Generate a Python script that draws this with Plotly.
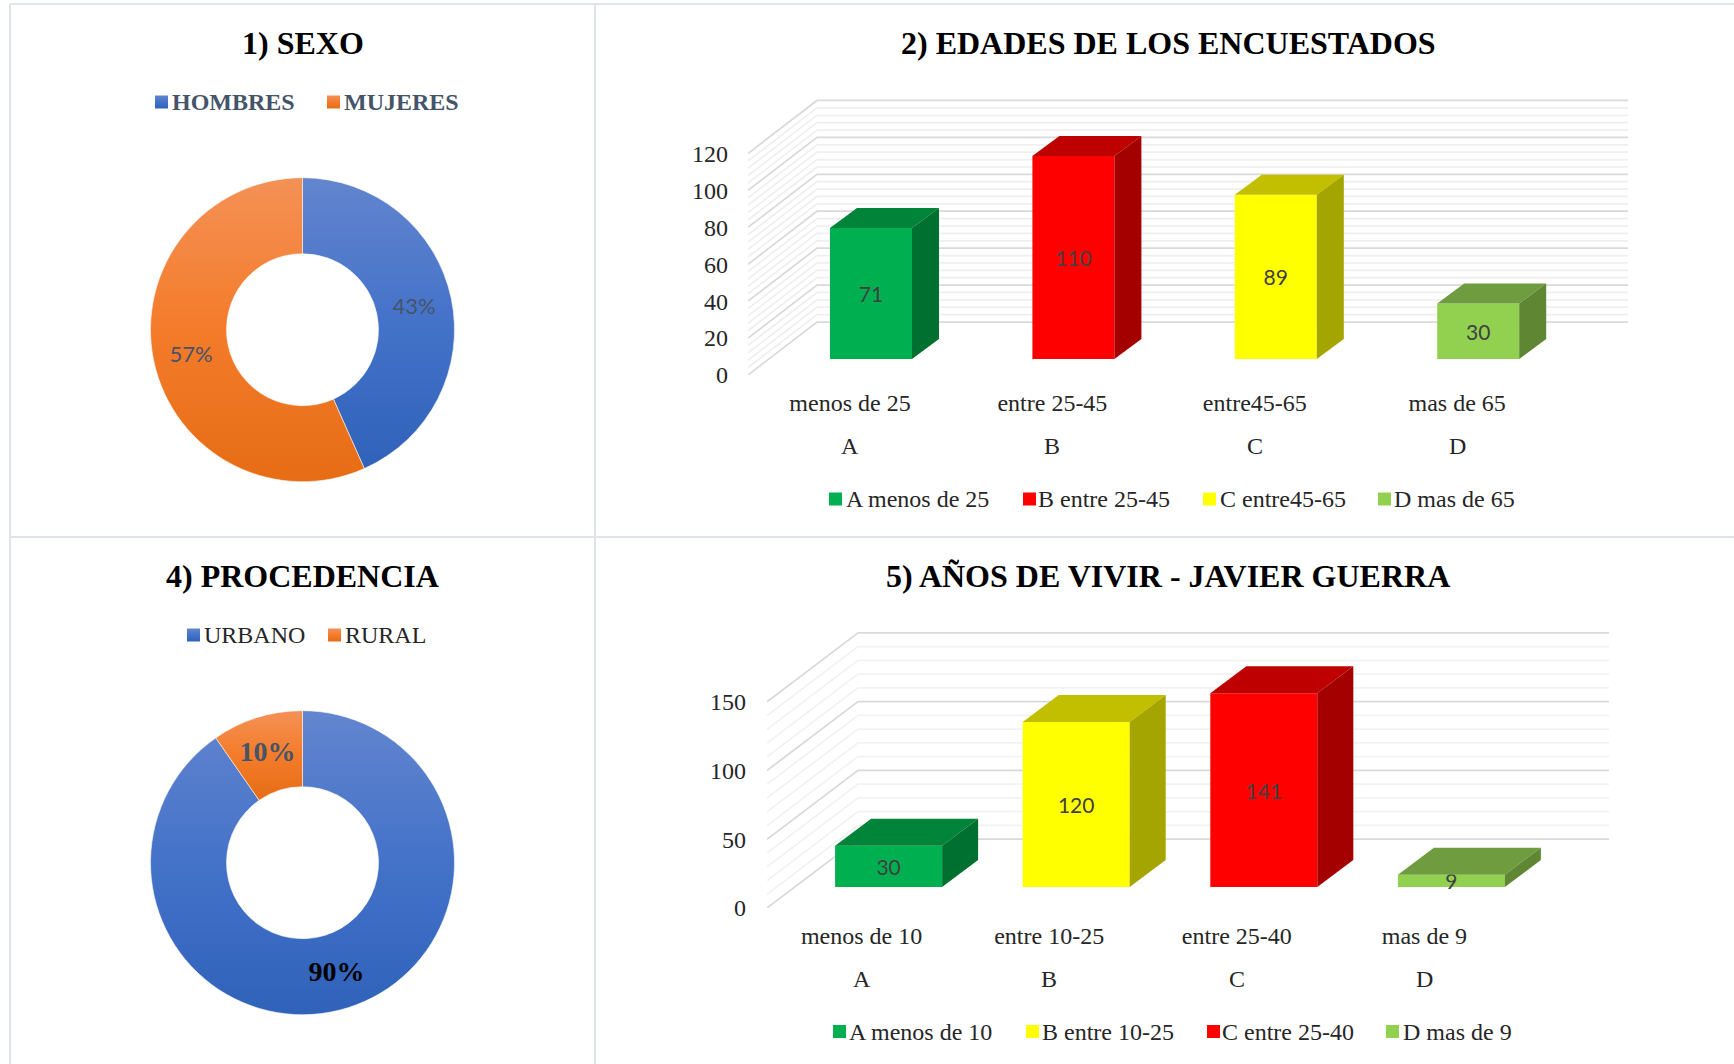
import plotly.graph_objects as go

W, H = 1734, 1064
SERIF = "Liberation Serif"
SANS = "Lato"

# ---- data ----
sexo_labels = ["HOMBRES", "MUJERES"]
sexo_values = [130, 170]
proc_labels = ["URBANO", "RURAL"]
proc_values = [271, 29]

edad_cats = ["menos de 25", "entre 25-45", "entre45-65", "mas de 65"]
edad_letters = ["A", "B", "C", "D"]
edad_values = [71, 110, 89, 30]
edad_ticks = [0, 20, 40, 60, 80, 100, 120]

anos_cats = ["menos de 10", "entre 10-25", "entre 25-40", "mas de 9"]
anos_letters = ["A", "B", "C", "D"]
anos_values = [30, 120, 141, 9]
anos_ticks = [0, 50, 100, 150]

# ---- palette ----
BLUE, ORANGE = "#4472c4", "#ed7d31"
GREEN = ("#00b050", "#00843a", "#007030")
RED = ("#ff0000", "#bf0000", "#a40000")
YELLOW = ("#ffff00", "#c2bf00", "#a5a500")
LIME = ("#92d050", "#6f9c3e", "#5f8733")


def px(x):
    return x / W


def py(y):
    return 1 - y / H


fig = go.Figure()
annotations, shapes = [], []


def text(s, x, y, size=24, color="#262626", bold=False, anchor="left", family=SERIF):
    annotations.append(dict(
        text=f"<b>{s}</b>" if bold else s, x=px(x), y=py(y), xref="paper", yref="paper",
        xanchor=anchor, yanchor="middle", showarrow=False,
        font=dict(family=family, size=size, color=color)))


def swatch(x, y, color):
    shapes.append(dict(type="rect", xref="paper", yref="paper", x0=px(x), x1=px(x + 13),
                       y0=py(y - 6.5), y1=py(y + 6.5), fillcolor=color, line_width=0))


def legend_row(entries, y, size=24, color="#262626", bold=False):
    for name, col, sx, tx in entries:
        swatch(sx, y, col)
        text(name, tx - 3, y, size=size, color=color, bold=bold)


def donut(labels, values, cy, fonts):
    cx, r = 302.5, 152
    fig.add_trace(go.Pie(
        labels=labels, values=values, hole=0.5, sort=False, direction="clockwise", rotation=0,
        domain=dict(x=[px(cx - r), px(cx + r)], y=[py(cy + r), py(cy - r)]),
        marker=dict(colors=[BLUE, ORANGE], line=dict(color="#f6f6f6", width=0.6)),
        texttemplate="%{percent:.0%}", textposition="inside", insidetextorientation="horizontal",
        textfont=fonts, showlegend=False, hoverinfo="skip"))


def bars3d(idx, cats, letters, values, ticks, colors, legend_names, g):
    xn = "x" if idx == 1 else f"x{idx}"
    yn = "y" if idx == 1 else f"y{idx}"
    ux, uy = g["ux"], g["uy"]
    x_left, x_right, y_bot, y_top = g["rect"]
    x0_px = g["label0"]
    rng_x = [(x_left - x0_px) / ux, (x_right - x0_px) / ux]
    rng_y = [0, (y_bot - y_top) / uy]
    wall_dx, wall_dy = g["wall"][0] / ux, g["wall"][1] / uy
    dep_dx, dep_dy = g["depth"][0] / ux, g["depth"][1] / uy
    base = g["base"] / uy
    off = g["bar_off"] / ux
    bw = g["bar_w"] / ux
    xmin = rng_x[0]
    xmax = rng_x[1]

    # walls sit below every trace: the side wall rises from the front edge, the back wall runs right
    for step, colr in ((g["minor"], g["minor_col"]), (g["major"], "#d9d9d9")):
        v = 0
        while v <= ticks[-1]:
            if step == g["major"] or v % g["major"] != 0:
                shapes.append(dict(
                    type="path", xref=xn, yref=yn, layer="below", line=dict(color=colr, width=1.75),
                    path=f"M{xmin},{v} L{xmin + wall_dx},{v + wall_dy} L{xmax},{v + wall_dy}"))
            v += step

    for i, (v, c) in enumerate(zip(values, colors)):
        xl, xr = i + off - bw / 2, i + off + bw / 2
        fig.add_trace(go.Bar(x=[i + off], y=[v], base=[base], width=[bw], xaxis=xn, yaxis=yn,
                             name=legend_names[i], marker=dict(color=c[0], line_width=0),
                             text=[str(v)], textposition="inside", insidetextanchor="middle",
                             textangle=0, constraintext="none",
                             textfont=dict(family=SANS, size=21, color="#404040"),
                             cliponaxis=False, showlegend=False, hoverinfo="skip"))
        top = base + v
        fig.add_trace(go.Scatter(
            x=[xl, xr, xr + dep_dx, xl + dep_dx, xl], y=[top, top, top + dep_dy, top + dep_dy, top],
            xaxis=xn, yaxis=yn, mode="lines", fill="toself", fillcolor=c[1], line=dict(width=0),
            showlegend=False, hoverinfo="skip", cliponaxis=False))
        fig.add_trace(go.Scatter(
            x=[xr, xr, xr + dep_dx, xr + dep_dx, xr], y=[base, top, top + dep_dy, base + dep_dy, base],
            xaxis=xn, yaxis=yn, mode="lines", fill="toself", fillcolor=c[2], line=dict(width=0),
            showlegend=False, hoverinfo="skip", cliponaxis=False))

    axis_font = dict(family=SERIF, size=24, color="#262626")
    fig.update_layout({
        ("xaxis" if idx == 1 else f"xaxis{idx}"): dict(
            domain=[px(x_left), px(x_right)], range=rng_x, anchor=yn, tickmode="array",
            tickvals=list(range(len(cats))), ticktext=cats, tickfont=axis_font, ticks="",
            ticklabelstandoff=g["xstand"], showgrid=False, zeroline=False, showline=False, fixedrange=True),
        ("yaxis" if idx == 1 else f"yaxis{idx}"): dict(
            domain=[py(y_bot), py(y_top)], range=rng_y, anchor=xn, tickmode="array",
            tickvals=ticks, ticktext=[str(t) for t in ticks], tickfont=axis_font, ticks="",
            ticklabelstandoff=g["ystand"], showgrid=False, zeroline=False, showline=False, fixedrange=True),
    })
    for i, letter in enumerate(letters):
        annotations.append(dict(text=letter, x=i, xref=xn, y=py(g["letter_y"]), yref="paper",
                                xanchor="center", yanchor="middle", showarrow=False, font=axis_font))


# ---- panel 1: sexo ----
donut(sexo_labels, sexo_values, 329.7, dict(family=SANS, size=22, color="#44546a"))
text("1) SEXO", 302.5, 43, size=32, color="#000000", bold=True, anchor="center")
legend_row([(sexo_labels[0], BLUE, 155, 172.5), (sexo_labels[1], ORANGE, 327, 344.5)],
           102, color="#44546a", bold=True)

# ---- panel 4: procedencia ----
donut(proc_labels, proc_values, 862.7,
      dict(family=SERIF, size=28, color=["#000000", "#44546a"], weight="bold"))
text("4) PROCEDENCIA", 302.5, 576, size=32, color="#000000", bold=True, anchor="center")
legend_row([(proc_labels[0], BLUE, 187, 205), (proc_labels[1], ORANGE, 328, 345.5)], 635)

# ---- panel 2: edades ----
bars3d(1, edad_cats, edad_letters, edad_values, edad_ticks, [GREEN, RED, YELLOW, LIME],
       [f"{a} {b}" for a, b in zip(edad_letters, edad_cats)],
       dict(ux=202.4, uy=1.846, rect=(748, 1628, 375, 95), label0=850, wall=(69, 53), depth=(27, 20),
            base=16, bar_off=21, bar_w=82, major=20, minor=4, minor_col="#efefef",
            xstand=11, ystand=19, letter_y=446))
text("2) EDADES DE LOS ENCUESTADOS", 1168, 43, size=32, color="#000000", bold=True, anchor="center")
legend_row([("A menos de 25", GREEN[0], 829, 846.5), ("B entre 25-45", RED[0], 1023, 1039),
            ("C entre45-65", YELLOW[0], 1203, 1220.5), ("D mas de 65", LIME[0], 1378, 1395)], 499)

# ---- panel 5: años ----
bars3d(2, anos_cats, anos_letters, anos_values, anos_ticks, [GREEN, YELLOW, RED, LIME],
       [f"{a} {b}" for a, b in zip(anos_letters, anos_cats)],
       dict(ux=187.6, uy=1.375, rect=(767, 1609, 908, 625), label0=861.6, wall=(91, 69), depth=(36, 27),
            base=21, bar_off=27, bar_w=107, major=50, minor=10, minor_col="#f2f2f2",
            xstand=11, ystand=20, letter_y=979))
text("5) AÑOS DE VIVIR - JAVIER GUERRA", 1168, 576, size=32, color="#000000", bold=True, anchor="center")
legend_row([("A menos de 10", GREEN[0], 833, 849.5), ("B entre 10-25", YELLOW[0], 1026, 1043),
            ("C entre 25-40", RED[0], 1207, 1222.5), ("D mas de 9", LIME[0], 1386, 1403.5)], 1031.5)

# ---- panel rules ----
rule = dict(type="line", xref="paper", yref="paper", layer="below", line=dict(color="#e0e3e8", width=2))
shapes += [
    dict(rule, x0=px(10), x1=px(10), y0=py(4), y1=py(H)),
    dict(rule, x0=px(595), x1=px(595), y0=py(4), y1=py(H)),
    dict(rule, x0=px(10), x1=px(W), y0=py(4), y1=py(4)),
    dict(rule, x0=px(10), x1=px(W), y0=py(537), y1=py(537)),
]

fig.update_layout(width=W, height=H, margin=dict(l=0, r=0, t=0, b=0, autoexpand=False), showlegend=False,
                  paper_bgcolor="#ffffff", plot_bgcolor="rgba(0,0,0,0)", barmode="overlay",
                  annotations=annotations, shapes=shapes, hovermode=False)

# Office-style vertical gradient on the doughnut slices and their legend keys
post = """
document.body.style.margin = '0';
document.documentElement.style.overflow = 'hidden';
var ns = 'http://www.w3.org/2000/svg';
var host = document.createElementNS(ns, 'svg');
host.setAttribute('style', 'position:absolute;width:0;height:0');
host.innerHTML = '<defs>' +
 '<linearGradient id="gBlue" x1="0" y1="0" x2="0" y2="1"><stop offset="0" stop-color="#6285ce"/><stop offset="0.5" stop-color="#4472c9"/><stop offset="1" stop-color="#2f62b9"/></linearGradient>' +
 '<linearGradient id="gOrange" x1="0" y1="0" x2="0" y2="1"><stop offset="0" stop-color="#f49156"/><stop offset="0.5" stop-color="#f47b2a"/><stop offset="1" stop-color="#e66c15"/></linearGradient>' +
 '</defs>';
document.body.appendChild(host);
var gd = document.querySelector('.js-plotly-plot');
function grad() {
  gd.querySelectorAll('.slice path.surface, .shapelayer path').forEach(function (p) {
    var f = getComputedStyle(p).fill;
    if (f === 'rgb(68, 114, 196)') p.style.setProperty('fill', 'url(#gBlue)');
    if (f === 'rgb(237, 125, 49)') p.style.setProperty('fill', 'url(#gOrange)');
  });
}
grad();
gd.on('plotly_afterplot', grad);
"""
fig.write_html("out.html", post_script=post, config=dict(displayModeBar=False))
